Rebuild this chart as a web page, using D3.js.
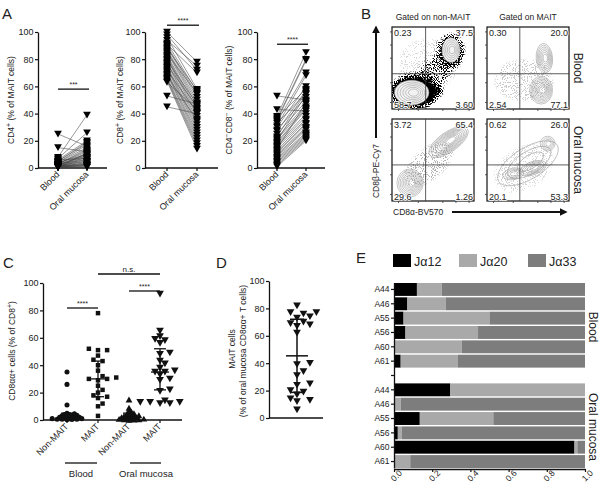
<!DOCTYPE html>
<html><head><meta charset="utf-8">
<script src="https://cdn.jsdelivr.net/npm/d3@7/dist/d3.min.js"></script>
<style>body{margin:0;background:#fff} text{font-family:"Liberation Sans",Arial,sans-serif;fill:#222}</style>
</head><body><svg id="c" width="600" height="490"></svg>
<script>
// ---------- DATA ----------
const pairCats = ["Blood", "Oral mucosa"];
const yTicks = [0, 20, 40, 60, 80, 100];
const cd4Blood = [25,15,8,7,6,5,5,4,4,3,3,3,2,2,2,2,1,1,1,1,1,0.5,0.5,0.5,0.5,3,2,1,4,2,1,0.5,6,3,1,0.5];
const cd4Oral  = [16,12,39,26,20,19,18,17,15,14,13,12,11,10,9,8,8,7,6,5,4,4,3,2,1,6,5,3,10,2,1,0.5,7,9,2,11];
const cd8Blood = [100,98,96,94,92,91,90,89,88,87,86,85,84,83,82,81,80,79,78,77,76,75,74,73,72,71,70,69,68,67,66,65,64,63,53,45];
const cd8Oral  = [78,72,58,75,56,70,54,52,57,50,48,46,55,44,42,40,38,47,36,34,45,32,30,28,41,26,24,22,35,20,18,16,14,43,47,40];
const dnBlood  = [53,43,38,37,36,35,34,33,31,30,28,27,25,23,22,21,20,19,18,17,16,15,14,13,12,11,10,9,8,7,6,5,4,3,2,1];
const dnOral   = [50,42,85,58,80,79,70,55,68,60,52,57,49,56,47,45,54,44,43,40,38,36,48,35,33,32,30,29,28,26,25,24,23,22,21,20];

const flowCols = ["Gated on non-MAIT", "Gated on MAIT"];
const flowRows = ["Blood", "Oral mucosa"];
const flowQuad = [["0.23","37.5","58.7","3.60"],["0.30","20.0","2.54","77.1"],["3.72","65.4","29.6","1.26"],["0.62","26.0","20.1","53.3"]];
const flowGateX = [0.41, 0.40, 0.41, 0.40];
const flowGateY = [0.43, 0.43, 0.44, 0.44];
// clusters: plot, centre x, centre y (fraction of axis, y from bottom), radii, rotation, rings, core fill
const flowClusters = [
  {p:0, cx:0.24, cy:0.20, rx:0.21, ry:0.15, rot:0,   n:6, fill:"#f2f2f2"},
  {p:0, cx:0.72, cy:0.72, rx:0.11, ry:0.15, rot:0,   n:5, fill:"#f2f2f2"},
  {p:1, cx:0.66, cy:0.23, rx:0.14, ry:0.17, rot:0,   n:8, fill:"none"},
  {p:1, cx:0.70, cy:0.62, rx:0.10, ry:0.18, rot:-5,  n:7, fill:"none"},
  {p:2, cx:0.22, cy:0.22, rx:0.16, ry:0.17, rot:0,   n:8, fill:"none"},
  {p:2, cx:0.69, cy:0.72, rx:0.28, ry:0.12, rot:-35, n:9, fill:"none"},
  {p:3, cx:0.50, cy:0.46, rx:0.42, ry:0.19, rot:-32, n:3, fill:"none"},
  {p:3, cx:0.74, cy:0.70, rx:0.09, ry:0.09, rot:0,   n:4, fill:"none"},
  {p:3, cx:0.56, cy:0.40, rx:0.17, ry:0.08, rot:-20, n:5, fill:"none"},
  {p:3, cx:0.32, cy:0.33, rx:0.13, ry:0.07, rot:-10, n:4, fill:"none"}
];
// density of scattered events: plot, centre, radii, rotation, density
const flowDensity = [
  {p:0, cx:0.27, cy:0.21, rx:0.29, ry:0.20, rot:0,   d:1.0},
  {p:0, cx:0.50, cy:0.22, rx:0.11, ry:0.08, rot:0,   d:0.9},
  {p:0, cx:0.72, cy:0.71, rx:0.15, ry:0.20, rot:0,   d:0.8},
  {p:0, cx:0.52, cy:0.45, rx:0.30, ry:0.15, rot:-45, d:0.35},
  {p:0, cx:0.45, cy:0.55, rx:0.40, ry:0.35, rot:0,   d:0.12},
  {p:1, cx:0.45, cy:0.35, rx:0.38, ry:0.28, rot:0,   d:0.18},
  {p:2, cx:0.45, cy:0.45, rx:0.38, ry:0.20, rot:-40, d:0.22},
  {p:3, cx:0.45, cy:0.40, rx:0.42, ry:0.28, rot:-30, d:0.16}
];
const flowTicks = [0.08, 0.32, 0.62, 0.78, 0.94];

const cCats = ["Non-MAIT|B", "MAIT|B", "Non-MAIT|O", "MAIT|O"];
const nonMaitBlood = [35,26,11,5,4.5,4,4,3.5,3,3,2.5,2,2,1.5,1.5,1,1,1,0.5,0.5,0.5,0.3,0.2];
const maitBlood    = [78,52,51,51,47,44,43,40,36,32,31,30,30,29,25,22,20,18,17,16,12,10,3];
const nonMaitOral  = [15,9,7,6,5,5,4,4,3.5,3,3,2.5,2,2,1.5,1,1,0.8,0.5,0.5,0.3,0.2];
const maitOral     = [92,65,61,59,58,56,49,48,43,41,38,36,35,35,33,30,29,22,21,14,13,13,13,12,12];
const cMid = [2.5, 30, 2, 35];
const cLo  = [0.5, 17, 0.5, 22];
const cHi  = [5, 43, 5, 52];

const dValues = [82,77,76,77,74,73,70,69,68,67,62,40,39,34,31,25,24,20,19,17,14,13,12,6];

const eKeys = ["Jα12", "Jα20", "Jα33"];
const eColors = ["#000000", "#a9a9a9", "#7d7d7d"];
const eDonors = ["A44","A46","A55","A56","A60","A61"];
const eBloodJ12 = [0.12, 0.07, 0.05, 0.06, 0.00, 0.035];
const eBloodJ20 = [0.13, 0.20, 0.45, 0.38, 0.355, 0.30];
const eOralJ12  = [0.295, 0.005, 0.135, 0.02, 0.945, 0.005];
const eOralJ20  = [0.705, 0.03, 0.385, 0.02, 0.015, 0.08];
const eTicks = [0, 0.2, 0.4, 0.6, 0.8, 1.0];

// ---------- DRAW ----------
const svg = d3.select("#c");
const FS = 9;
function label(x, y, txt, size, opts={}) {
  const t = svg.append("text").attr("x", x).attr("y", y).attr("font-size", size).text(txt);
  if (opts.anchor) t.attr("text-anchor", opts.anchor);
  if (opts.rot != null) t.attr("transform", `rotate(${opts.rot},${x},${y})`);
  return t;
}
function supLabel(x, y, parts, size, rot) {
  const t = svg.append("text").attr("font-size", size).attr("text-anchor", "middle")
    .attr("transform", `translate(${x},${y}) rotate(${rot})`);
  let up = false;
  parts.forEach(p => {
    const s = t.append("tspan").text(p[0]);
    if (p[1] && !up) { s.attr("dy", -3).attr("font-size", size * 0.8); up = true; }
    else if (p[1]) { s.attr("font-size", size * 0.8); }
    else if (up) { s.attr("dy", 3); up = false; }
  });
  return t;
}
function yAxis(x, y, ticks) {
  const g = svg.append("g").attr("transform", `translate(${x},0)`)
    .call(d3.axisLeft(y).tickValues(ticks).tickSize(3).tickSizeOuter(0).tickPadding(1.5));
  g.select(".domain").attr("stroke", "#111").attr("stroke-width", 1.3);
  g.selectAll(".tick line").attr("stroke", "#111").attr("stroke-width", 1.2);
  g.selectAll(".tick text").attr("font-size", FS).attr("font-family", "Liberation Sans, Arial, sans-serif").attr("fill", "#333");
  return g;
}
function xAxisCats(x, y0, x0, x1, labels) {
  svg.append("line").attr("x1", x0).attr("x2", x1).attr("y1", y0).attr("y2", y0).attr("stroke", "#111").attr("stroke-width", 1.3);
  labels.forEach(([key, txt]) => {
    const px = x(key);
    svg.append("line").attr("x1", px).attr("x2", px).attr("y1", y0).attr("y2", y0 + 3).attr("stroke", "#111").attr("stroke-width", 1.2);
    label(px + 2, y0 + 7, txt, FS, {anchor: "end", rot: -45}).attr("fill", "#333");
  });
}
function sigBar(x1, x2, y, txt, size) {
  svg.append("line").attr("x1", x1).attr("x2", x2).attr("y1", y).attr("y2", y).attr("stroke", "#111").attr("stroke-width", 1.3);
  label((x1 + x2) / 2, y - 2.5, txt, size || 7, {anchor: "middle"});
}
const triDown = d3.symbol(d3.symbolTriangle, 26)();
const triUp = d3.symbol(d3.symbolTriangle, 20)();

// Panel letters
[["A", 2, 19], ["B", 361, 19], ["C", 3, 268], ["D", 216, 268], ["E", 356, 263]].forEach(([t, x, y]) =>
  label(x, y, t, 15).attr("fill", "#111"));

// Panel A
function paired(cfg) {
  const y = d3.scaleLinear().domain([0, 100]).range([168, 32]);
  const x = d3.scalePoint().domain(pairCats).range(cfg.cat);
  yAxis(cfg.ax, y, yTicks);
  xAxisCats(x, 168, cfg.ax, cfg.xEnd, pairCats.map(c => [c, c]));
  const g = svg.append("g");
  cfg.blood.forEach((b, i) => {
    g.append("line").attr("x1", x("Blood")).attr("y1", y(b)).attr("x2", x("Oral mucosa")).attr("y2", y(cfg.oral[i]))
      .attr("stroke", "#444").attr("stroke-width", 0.55);
  });
  [["Blood", cfg.blood], ["Oral mucosa", cfg.oral]].forEach(([k, vals]) => {
    vals.forEach(v => g.append("path").attr("d", triDown)
      .attr("transform", `translate(${x(k)},${y(v) - 1}) rotate(180)`).attr("fill", "#000"));
  });
  supLabel(cfg.lx, 100, cfg.title, 8.5, -90);
  sigBar(x("Blood"), x("Oral mucosa") + 2, y(cfg.sigY), cfg.sig);
}
paired({ax: 38, xEnd: 107, cat: [58, 87], blood: cd4Blood, oral: cd4Oral, lx: 14,
  title: [["CD4", 0], ["+", 1], [" (% of MAIT cells)", 0]], sig: "***", sigY: 58});
paired({ax: 145, xEnd: 218, cat: [167, 197], blood: cd8Blood, oral: cd8Oral, lx: 123,
  title: [["CD8", 0], ["+", 1], [" (% of MAIT cells)", 0]], sig: "****", sigY: 105});
paired({ax: 257, xEnd: 325, cat: [277, 306], blood: dnBlood, oral: dnOral, lx: 232,
  title: [["CD4", 0], ["−", 1], ["CD8", 0], ["−", 1], [" (% of MAIT cells)", 0]], sig: "****", sigY: 91});

// Panel B
const defs = svg.append("defs");
const filt = defs.append("filter").attr("id", "speck").attr("filterUnits", "userSpaceOnUse")
  .attr("x", 380).attr("y", 15).attr("width", 200).attr("height", 200);
filt.append("feGaussianBlur").attr("in", "SourceGraphic").attr("stdDeviation", 2.5).attr("result", "b");
filt.append("feTurbulence").attr("type", "fractalNoise").attr("baseFrequency", 0.9).attr("numOctaves", 1).attr("seed", 5).attr("result", "n0");
filt.append("feColorMatrix").attr("in", "n0").attr("type", "matrix")
  .attr("values", "0 0 0 0 0  0 0 0 0 0  0 0 0 0 0  0 0 0 5 -2").attr("result", "n");
filt.append("feComposite").attr("in", "b").attr("in2", "n").attr("operator", "arithmetic")
  .attr("k1", 0).attr("k2", 4.5).attr("k3", -3).attr("k4", -0.4);
const boxes = [[392, 27], [487, 27], [392, 119], [487, 119]];
const BS = 82;
boxes.forEach(([bx, by], p) => {
  const fx = d3.scaleLinear().domain([0, 1]).range([bx, bx + BS]);
  const fy = d3.scaleLinear().domain([0, 1]).range([by + BS, by]);
  defs.append("clipPath").attr("id", "clp" + p).append("rect").attr("x", bx).attr("y", by).attr("width", BS).attr("height", BS);
  const g = svg.append("g").attr("clip-path", `url(#clp${p})`);
  const dg = g.append("g").attr("filter", "url(#speck)").attr("opacity", p === 0 ? 1 : 0.5);
  flowDensity.filter(d => d.p === p).forEach(d => {
    dg.append("ellipse").attr("cx", fx(d.cx)).attr("cy", fy(d.cy)).attr("rx", d.rx * BS).attr("ry", d.ry * BS)
      .attr("transform", `rotate(${d.rot},${fx(d.cx)},${fy(d.cy)})`).attr("fill", "#000").attr("fill-opacity", d.d);
  });
  flowClusters.filter(c => c.p === p).forEach(c => {
    const cx = fx(c.cx), cy = fy(c.cy);
    const cg = g.append("g").attr("transform", `rotate(${c.rot},${cx},${cy})`);
    d3.range(c.n).forEach(i => {
      const k = 1 - i / c.n * 0.85;
      cg.append("ellipse").attr("cx", cx + (1 - k) * c.rx * BS * 0.15).attr("cy", cy).attr("rx", c.rx * BS * k).attr("ry", c.ry * BS * k)
        .attr("fill", i === 0 ? c.fill : "none").attr("stroke", "#a0a0a0").attr("stroke-width", 0.6);
    });
  });
  svg.append("rect").attr("x", bx).attr("y", by).attr("width", BS).attr("height", BS).attr("fill", "none").attr("stroke", "#111").attr("stroke-width", 1.2);
  svg.append("line").attr("x1", fx(flowGateX[p])).attr("x2", fx(flowGateX[p])).attr("y1", by).attr("y2", by + BS).attr("stroke", "#333").attr("stroke-width", 0.8);
  svg.append("line").attr("x1", bx).attr("x2", bx + BS).attr("y1", fy(flowGateY[p])).attr("y2", fy(flowGateY[p])).attr("stroke", "#333").attr("stroke-width", 0.8);
  flowTicks.forEach(t => {
    svg.append("line").attr("x1", bx - 2).attr("x2", bx).attr("y1", fy(t)).attr("y2", fy(t)).attr("stroke", "#333").attr("stroke-width", 0.8);
    svg.append("line").attr("x1", fx(t)).attr("x2", fx(t)).attr("y1", by + BS).attr("y2", by + BS + 2).attr("stroke", "#333").attr("stroke-width", 0.8);
  });
  const q = flowQuad[p];
  const halo = t => t.attr("stroke", "#fff").attr("stroke-width", 1.5).attr("paint-order", "stroke");
  halo(label(bx + 2, by + 9, q[0], 9));
  halo(label(bx + BS - 1, by + 9, q[1], 9, {anchor: "end"}));
  halo(label(bx + 2, by + BS - 1.5, q[2], 9));
  halo(label(bx + BS - 1, by + BS - 1.5, q[3], 9, {anchor: "end"}));
});
label(433, 20, flowCols[0], 8.5, {anchor: "middle"});
label(528, 20, flowCols[1], 8.5, {anchor: "middle"});
label(574, 68, flowRows[0], 12, {anchor: "middle", rot: 90});
label(574, 160, flowRows[1], 12, {anchor: "middle", rot: 90});
defs.append("marker").attr("id", "arr").attr("viewBox", "0 0 10 10").attr("refX", 8).attr("refY", 5)
  .attr("markerWidth", 4).attr("markerHeight", 4).attr("orient", "auto")
  .append("path").attr("d", "M0,0L10,5L0,10z").attr("fill", "#111");
svg.append("line").attr("x1", 376).attr("x2", 376).attr("y1", 138).attr("y2", 27).attr("stroke", "#111").attr("stroke-width", 2).attr("marker-end", "url(#arr)");
label(379, 171, "CD8β-PE-Cy7", 8.5, {anchor: "middle", rot: -90});
label(393, 215, "CD8α-BV570", 8.5);
svg.append("line").attr("x1", 452).attr("x2", 566).attr("y1", 212).attr("y2", 212).attr("stroke", "#111").attr("stroke-width", 2).attr("marker-end", "url(#arr)");

// beeswarm helper
function swarm(vals, y, d) {
  const placed = [];
  const order = vals.map((v, i) => i).sort((a, b) => vals[a] - vals[b]);
  const off = new Array(vals.length);
  order.forEach(i => {
    const py = y(vals[i]);
    for (let k = 0; k < 40; k++) {
      const o = (k % 2 ? 1 : -1) * Math.ceil(k / 2) * d * 0.95;
      if (placed.every(p => Math.hypot(p[0] - o, p[1] - py) >= d)) { off[i] = o; placed.push([o, py]); break; }
    }
  });
  return off;
}

// Panel C
{
  const y = d3.scaleLinear().domain([0, 100]).range([420, 283]);
  const x = d3.scalePoint().domain(cCats).range([67, 160]);
  yAxis(43, y, yTicks);
  xAxisCats(x, 420, 43, 182, cCats.map(c => [c, c.split("|")[0]]));
  const groups = [nonMaitBlood, maitBlood, nonMaitOral, maitOral];
  const spacing = [2.6, 4.8, 2.6, 5.2];
  const shapes = [d3.symbol(d3.symbolCircle, 20)(), d3.symbol(d3.symbolSquare, 20)(), triUp, triDown];
  groups.forEach((vals, gi) => {
    const off = swarm(vals, y, spacing[gi]);
    const cx = x(cCats[gi]);
    vals.forEach((v, i) => svg.append("path").attr("d", shapes[gi])
      .attr("transform", `translate(${cx + off[i]},${y(v) + (gi === 3 ? -1 : gi === 2 ? 1 : 0)}) rotate(${gi === 3 ? 180 : 0})`).attr("fill", "#111"));
    svg.append("line").attr("x1", cx).attr("x2", cx).attr("y1", y(cLo[gi])).attr("y2", y(cHi[gi])).attr("stroke", "#111").attr("stroke-width", 1.3);
    svg.append("line").attr("x1", cx - 9).attr("x2", cx + 9).attr("y1", y(cMid[gi])).attr("y2", y(cMid[gi])).attr("stroke", "#111").attr("stroke-width", 1.3);
    [cLo[gi], cHi[gi]].forEach(v => svg.append("line").attr("x1", cx - 6).attr("x2", cx + 6).attr("y1", y(v)).attr("y2", y(v)).attr("stroke", "#111").attr("stroke-width", 1.3));
  });
  sigBar(x(cCats[0]), x(cCats[1]), 308, "****");
  sigBar(x(cCats[2]), x(cCats[3]), 291, "****");
  sigBar(x(cCats[1]), x(cCats[3]), 274, "n.s.", 8);
  supLabel(15, 351, [["CD8αα+ cells (% of CD8", 0], ["+", 1], [")", 0]], 8.5, -90);
  svg.append("line").attr("x1", 65).attr("x2", 97).attr("y1", 463).attr("y2", 463).attr("stroke", "#111").attr("stroke-width", 1.3);
  svg.append("line").attr("x1", 130).attr("x2", 161).attr("y1", 463).attr("y2", 463).attr("stroke", "#111").attr("stroke-width", 1.3);
  label(81, 477, "Blood", 9.5, {anchor: "middle"});
  label(146, 477, "Oral mucosa", 9.5, {anchor: "middle"});
}

// Panel D
{
  const y = d3.scaleLinear().domain([0, 100]).range([418, 281]);
  yAxis(269, y, yTicks);
  svg.append("line").attr("x1", 269).attr("x2", 323).attr("y1", 418).attr("y2", 418).attr("stroke", "#111").attr("stroke-width", 1.3);
  const cx = 297;
  const off = swarm(dValues, y, 6.8);
  dValues.forEach((v, i) => svg.append("path").attr("d", triDown)
    .attr("transform", `translate(${cx + off[i]},${y(v) - 1}) rotate(180)`).attr("fill", "#111"));
  const m = d3.mean(dValues), sd = d3.deviation(dValues);
  svg.append("line").attr("x1", cx).attr("x2", cx).attr("y1", y(m - sd)).attr("y2", y(m + sd)).attr("stroke", "#111").attr("stroke-width", 1.5);
  svg.append("line").attr("x1", cx - 11).attr("x2", cx + 11).attr("y1", y(m)).attr("y2", y(m)).attr("stroke", "#111").attr("stroke-width", 1.5);
  [m - sd, m + sd].forEach(v => svg.append("line").attr("x1", cx - 7).attr("x2", cx + 7).attr("y1", y(v)).attr("y2", y(v)).attr("stroke", "#111").attr("stroke-width", 1.5));
  label(235, 349, "MAIT cells", 8.5, {anchor: "middle", rot: -90});
  label(246, 351, "(% of oral mucosa CD8αα+ T cells)", 8.5, {anchor: "middle", rot: -90});
}

// Panel E
{
  const rows = [];
  eDonors.forEach((d, i) => rows.push({key: "B" + d, name: d, v: [eBloodJ12[i], eBloodJ20[i], 1 - eBloodJ12[i] - eBloodJ20[i]]}));
  rows.push({key: "gap", name: "", v: null});
  eDonors.forEach((d, i) => rows.push({key: "O" + d, name: d, v: [eOralJ12[i], eOralJ20[i], Math.max(0, 1 - eOralJ12[i] - eOralJ20[i])]}));
  const y = d3.scaleBand().domain(rows.map(r => r.key)).range([283, 468]).paddingInner(0.1).paddingOuter(0.0);
  const x = d3.scaleLinear().domain([0, 1]).range([394, 585]);
  const data = rows.filter(r => r.v).map(r => ({key: r.key, j0: r.v[0], j1: r.v[1], j2: r.v[2]}));
  const stack = d3.stack().keys(["j0", "j1", "j2"])(data);
  stack.forEach((layer, li) => {
    svg.append("g").selectAll("rect").data(layer).join("rect")
      .attr("x", d => x(d[0])).attr("width", d => x(d[1]) - x(d[0]))
      .attr("y", d => y(d.data.key)).attr("height", y.bandwidth()).attr("fill", eColors[li]);
  });
  const g = svg.append("g").attr("transform", "translate(394,0)")
    .call(d3.axisLeft(y).tickSize(3).tickSizeOuter(0).tickPadding(1.5).tickFormat(k => (rows.find(r => r.key === k) || {}).name));
  g.select(".domain").attr("stroke", "#111").attr("stroke-width", 1.3);
  g.selectAll(".tick line").attr("stroke", "#111").attr("stroke-width", 1.2);
  g.selectAll(".tick text").attr("font-size", 8.5).attr("font-family", "Liberation Sans, Arial, sans-serif").attr("fill", "#333");
  const gx = svg.append("g").attr("transform", "translate(0,469)")
    .call(d3.axisBottom(x).tickValues(eTicks).tickFormat(d3.format(".1f")).tickSize(3).tickSizeOuter(0));
  gx.select(".domain").attr("stroke", "#111").attr("stroke-width", 1.3);
  gx.selectAll(".tick line").attr("stroke", "#111").attr("stroke-width", 1.2);
  gx.selectAll(".tick text").attr("font-size", 8.5).attr("font-family", "Liberation Sans, Arial, sans-serif").attr("fill", "#333")
    .attr("text-anchor", "end").attr("dx", "0.3em").attr("dy", "0.35em").attr("transform", "rotate(-45)");
  // legend
  const lx = [393, 459, 528];
  eKeys.forEach((k, i) => {
    svg.append("rect").attr("x", lx[i]).attr("y", 254).attr("width", 18).attr("height", 13).attr("fill", eColors[i]);
    label(lx[i] + 21, 266, k, 12.5);
  });
  label(589, 327, "Blood", 12, {anchor: "middle", rot: 90});
  label(589, 427, "Oral mucosa", 12, {anchor: "middle", rot: 90});
}
</script></body></html>
